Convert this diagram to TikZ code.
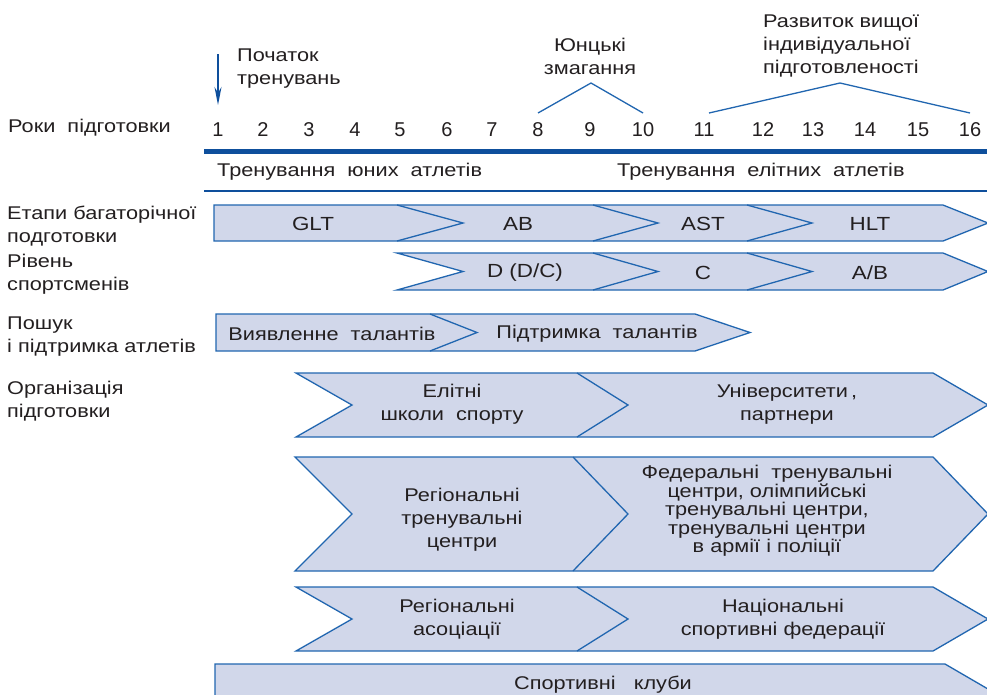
\documentclass[tikz,border=0pt]{standalone}
\usepackage{fontspec}
\setmainfont{Liberation Sans}[FakeStretch=1.18]
\newfontfamily\digitfont{Liberation Sans}
\usetikzlibrary{arrows.meta}
\definecolor{bandfill}{HTML}{D1D7EA}
\definecolor{bandline}{HTML}{2166B0}
\definecolor{rule}{HTML}{0E4F9C}
\definecolor{txt}{HTML}{231F20}
\tikzset{
  band/.style={fill=bandfill, draw=bandline, line width=1.3pt, line join=miter},
  sepline/.style={draw=bandline, line width=1.3pt},
  hat/.style={draw=bandline, line width=1.3pt},
  lbl/.style={anchor=west, inner sep=0pt, text=txt, align=left, font=\fontsize{18.4}{23}\selectfont},
  ctext/.style={inner sep=0pt, text=txt, align=center, font=\fontsize{18.4}{23}\selectfont},
  btext/.style={inner sep=0pt, text=txt, align=center, font=\fontsize{19}{23}\selectfont},
  dtext/.style={inner sep=0pt, text=txt, align=center, font=\fontsize{18.4}{18.6}\selectfont},
  yr/.style={inner sep=0pt, text=txt, font=\digitfont\fontsize{20}{22}\selectfont},
}
\begin{document}
\begin{tikzpicture}[x=1pt,y=-1pt]
\clip (0,0) rectangle (987,694);
\fill[white] (0,0) rectangle (987,694);

% top annotations
\draw[draw=rule, line width=1.3pt, -{Stealth[length=18pt,width=7pt]}] (218,54) -- (218,105);
\node[lbl] (start) at (237,69) {Початок\\тренувань};
\node[lbl] (years) at (8,128) {Роки\ \ підготовки};

\foreach \n/\x in {1/218,2/263,3/309,4/355,5/400,6/447,7/492,8/538,9/590,10/643,11/704,12/763,13/813,14/865,15/918,16/970}{
  \node[yr] (y\n) at (\x,130) {\n};
}
\node[ctext] (junior) at (590,56) {Юнцькі\\змагання};
\node[lbl] (develop) at (763,46) {Развиток вищої\\індивідуальної\\підготовленості};
\draw[hat] (538,113) -- (591,83) -- (643,113);
\draw[hat] (709,113) -- (840,83) -- (970,113);

% rules
\draw[rule, line width=4.5pt] (204,151.5) -- (995,151.5);
\draw[rule, line width=2pt] (204,190.5) -- (995,190.5);
\node[lbl] (young) at (217,172) {Тренування\ \ юних\ \ атлетів};
\node[lbl] (elite) at (617,172) {Тренування\ \ елітних\ \ атлетів};

% left labels
\node[lbl] (l1) at (7,226) {Етапи багаторічної\\подготовки};
\node[lbl] (l2) at (7,274.5) {Рівень\\спортсменів};
\node[lbl] (l3) at (7,336.5) {Пошук\\і підтримка атлетів};
\node[lbl] (l4) at (7,401) {Організація\\підготовки};

% row 1
\draw[band] (214,205) -- (943,205) -- (988,223) -- (943,241) -- (214,241) -- cycle;
\draw[sepline] (397,205) -- (463,223) -- (397,241);
\draw[sepline] (593,205) -- (658,223) -- (593,241);
\draw[sepline] (747,205) -- (812,223) -- (747,241);
\node[btext] (glt) at (313,224) {GLT};
\node[btext] (ab) at (518,224) {AB};
\node[btext] (ast) at (703,224) {AST};
\node[btext] (hlt) at (870,224) {HLT};

% row 2
\draw[band] (397,253) -- (943,253) -- (988,271.5) -- (943,290) -- (397,290) -- (463,271.5) -- cycle;
\draw[sepline] (593,253) -- (658,271.5) -- (593,290);
\draw[sepline] (747,253) -- (812,271.5) -- (747,290);
\node[btext] (d) at (525,272.5) {D (D/C)};
\node[btext] (c) at (703,272.5) {C};
\node[btext] (abl) at (870,272.5) {A/B};

% row 3
\draw[band] (216,314) -- (695,314) -- (750,332.5) -- (695,351) -- (216,351) -- cycle;
\draw[sepline] (430,314) -- (477,332.5) -- (430,351);
\node[ctext] (find) at (332,333.5) {Виявленне\ \ талантів};
\node[ctext] (support) at (597,333.5) {Підтримка\ \ талантів};

% row 4
\draw[band] (296,373) -- (933,373) -- (988,405) -- (933,437) -- (296,437) -- (352,405) -- cycle;
\draw[sepline] (577,373) -- (628,405) -- (577,437);
\node[ctext] (schools) at (452,404) {Елітні\\школи\ \ спорту};
\node[ctext] (univ) at (787,404) {Університети\,,\\партнери};

% row 5
\draw[band] (295,457) -- (933,457) -- (988,514) -- (933,571) -- (295,571) -- (352,514) -- cycle;
\draw[sepline] (573,457) -- (628,514) -- (573,571);
\node[ctext] (regc) at (462,520) {Регіональні\\тренувальні\\центри};
\node[dtext] (fed) at (767,511) {Федеральні\ \ тренувальні\\центри,\ олімпийські\\тренувальні центри,\\тренувальні центри\\в армії і поліції};

% row 6
\draw[band] (296,587) -- (933,587) -- (988,619) -- (933,651) -- (296,651) -- (352,619) -- cycle;
\draw[sepline] (577,587) -- (628,619) -- (577,651);
\node[ctext] (rega) at (457,619) {Регіональні\\асоціації};
\node[ctext] (nat) at (783,619) {Національні\\спортивні федерації};

% row 7
\draw[band] (215,664) -- (945,664) -- (1000,696) -- (945,728) -- (215,728) -- cycle;
\node[ctext] (clubs) at (603,685) {Спортивні\ \ \ клуби};
\end{tikzpicture}
\end{document}
